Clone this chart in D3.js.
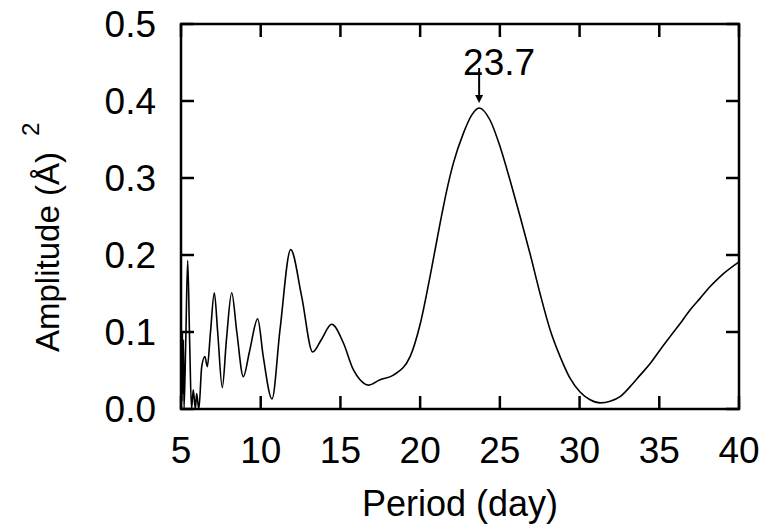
<!DOCTYPE html>
<html lang="en">
<head>
<meta charset="UTF-8">
<title>Amplitude vs Period</title>
<script src="https://d3js.org/d3.v7.min.js"></script>
<style>
    body { margin: 0; padding: 0; background: #fff; }
    svg { display: block; }
    text { font-family: "Liberation Sans", Arial, sans-serif; fill: #000; }
    .tick-label { font-size: 37px; }
    .axis-title { font-size: 36px; }
    .y-title { font-size: 33px; }
</style>
</head>
<body>
<svg id="chart" width="767" height="531"></svg>
<script>
    // period (day) and amplitude
    const period = [5.00, 5.03, 5.06, 5.09, 5.12, 5.15, 5.19, 5.30, 5.42, 5.54, 5.66, 5.77, 5.90, 5.98, 6.12,
        6.30, 6.50, 6.65, 6.85, 7.09, 7.30, 7.59, 7.85, 8.18, 8.50, 8.91, 9.30, 9.81, 10.16, 10.71, 11.21,
        11.88, 12.57, 13.26, 13.80, 14.45, 15.18, 15.81, 16.23, 16.75, 17.48, 18.32, 19.37, 20.00, 20.62,
        21.25, 21.67, 22.08, 22.71, 23.24, 23.70, 24.39, 25.01, 25.64, 26.27, 26.89, 27.52, 28.15, 28.78,
        29.40, 30.03, 30.66, 31.29, 31.92, 32.54, 33.17, 33.80, 34.43, 35.06, 35.68, 36.31, 36.94, 37.57,
        38.19, 38.82, 40.00];
    const amplitude = [0.00, 0.08, 0.01, 0.10, 0.02, 0.09, 0.00, 0.09, 0.193, 0.09, 0.00, 0.025, 0.00, 0.02, 0.00,
        0.055, 0.068, 0.055, 0.10, 0.151, 0.10, 0.028, 0.09, 0.151, 0.10, 0.042, 0.075, 0.117, 0.068, 0.013, 0.103,
        0.207, 0.146, 0.074, 0.09, 0.110, 0.086, 0.051, 0.038, 0.031, 0.038, 0.044, 0.068, 0.110, 0.172,
        0.241, 0.284, 0.319, 0.358, 0.382, 0.391, 0.375, 0.341, 0.297, 0.250, 0.202, 0.150, 0.103, 0.068,
        0.040, 0.022, 0.012, 0.008, 0.010, 0.016, 0.029, 0.044, 0.059, 0.077, 0.094, 0.111, 0.129, 0.144,
        0.159, 0.172, 0.191];

    const xTicks = [5, 10, 15, 20, 25, 30, 35, 40];
    const yTicks = [0.0, 0.1, 0.2, 0.3, 0.4, 0.5];
    const peakPeriod = 23.7;
    const peakLabel = "23.7";

    const svg = d3.select("#chart");
    const plotLeft = 181, plotRight = 739, plotTop = 24, plotBottom = 409;
    const tickLen = 13;

    const x = d3.scaleLinear().domain([5, 40]).range([plotLeft, plotRight]);
    const y = d3.scaleLinear().domain([0, 0.5]).range([plotBottom, plotTop]);

    svg.append("rect").attr("width", 767).attr("height", 531).attr("fill", "#fff");

    // ticks on all four sides, pointing inward
    const ticks = svg.append("g").attr("stroke", "#000").attr("stroke-width", 2.5);
    xTicks.forEach(t => {
        ticks.append("line").attr("x1", x(t)).attr("x2", x(t)).attr("y1", plotBottom).attr("y2", plotBottom - tickLen);
        ticks.append("line").attr("x1", x(t)).attr("x2", x(t)).attr("y1", plotTop).attr("y2", plotTop + tickLen);
    });
    yTicks.forEach(t => {
        ticks.append("line").attr("x1", plotLeft).attr("x2", plotLeft + tickLen).attr("y1", y(t)).attr("y2", y(t));
        ticks.append("line").attr("x1", plotRight).attr("x2", plotRight - tickLen).attr("y1", y(t)).attr("y2", y(t));
    });

    // tick labels
    svg.append("g").selectAll("text").data(xTicks).join("text")
        .attr("class", "tick-label")
        .attr("x", d => x(d)).attr("y", 463)
        .attr("text-anchor", "middle")
        .text(d => d);
    svg.append("g").selectAll("text").data(yTicks).join("text")
        .attr("class", "tick-label")
        .attr("x", 156).attr("y", d => y(d) + 13)
        .attr("text-anchor", "end")
        .text(d => d.toFixed(1));

    // the curve
    const pts = period.map((p, i) => [p, amplitude[i]]);
    const line = d3.line().x(d => x(d[0])).y(d => y(d[1])).curve(d3.curveMonotoneX);
    svg.append("path").datum(pts)
        .attr("d", line)
        .attr("fill", "none")
        .attr("stroke", "#000")
        .attr("stroke-width", 1.6);

    // frame
    svg.append("rect")
        .attr("x", plotLeft).attr("y", plotTop)
        .attr("width", plotRight - plotLeft).attr("height", plotBottom - plotTop)
        .attr("fill", "none").attr("stroke", "#000").attr("stroke-width", 2.5);

    // peak annotation
    const peakAmp = d3.max(amplitude);
    const px = x(peakPeriod);
    svg.append("line")
        .attr("x1", px).attr("x2", px)
        .attr("y1", 68).attr("y2", y(peakAmp) - 12)
        .attr("stroke", "#000").attr("stroke-width", 2);
    svg.append("path")
        .attr("d", `M${px - 4},${y(peakAmp) - 13} L${px + 4},${y(peakAmp) - 13} L${px},${y(peakAmp) - 5} Z`)
        .attr("fill", "#000");
    svg.append("text")
        .attr("class", "tick-label")
        .attr("x", px + 20).attr("y", 75)
        .attr("text-anchor", "middle")
        .text(peakLabel);

    // axis titles
    svg.append("text")
        .attr("class", "axis-title")
        .attr("x", (plotLeft + plotRight) / 2).attr("y", 516)
        .attr("text-anchor", "middle")
        .text("Period (day)");

    const yt = svg.append("text")
        .attr("class", "y-title")
        .attr("transform", "translate(59,352) rotate(-90)")
        .attr("text-anchor", "start");
    yt.append("tspan").text("Amplitude (Å)");
    yt.append("tspan").attr("dx", 16).attr("dy", -20).style("font-size", "24px").text("2");
</script>
</body>
</html>
